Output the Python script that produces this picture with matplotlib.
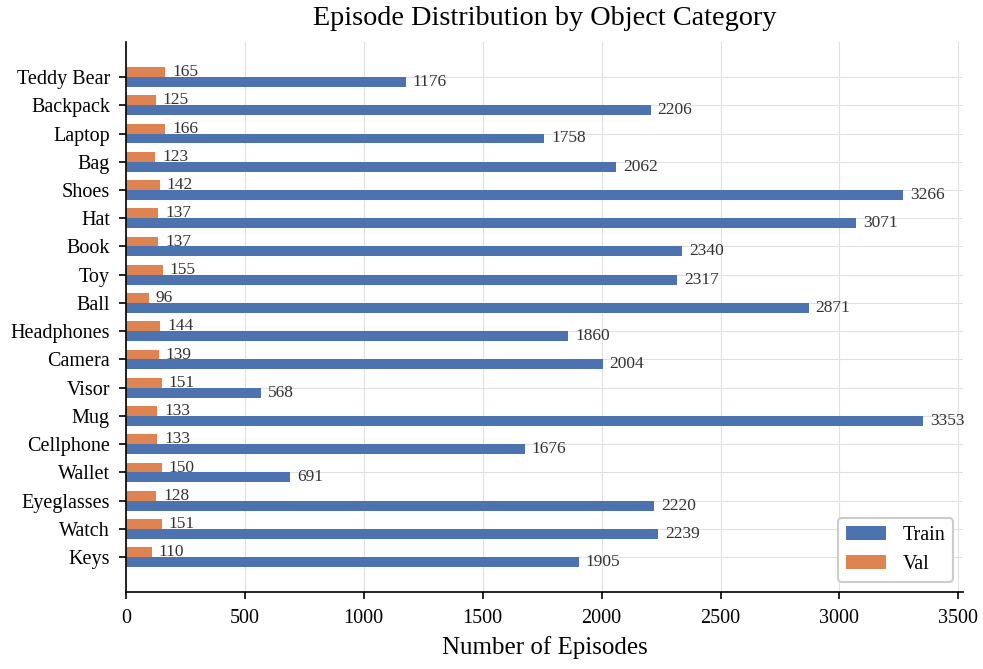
import matplotlib
matplotlib.use("Agg")
import matplotlib.pyplot as plt
import numpy as np

categories = ["Keys", "Watch", "Eyeglasses", "Wallet", "Cellphone", "Mug", "Visor",
              "Camera", "Headphones", "Ball", "Toy", "Book", "Hat", "Shoes", "Bag",
              "Laptop", "Backpack", "Teddy Bear"]
train = [1905, 2239, 2220, 691, 1676, 3353, 568, 2004, 1860, 2871, 2317, 2340,
         3071, 3266, 2062, 1758, 2206, 1176]
val = [110, 151, 128, 150, 133, 133, 151, 139, 144, 96, 155, 137, 137, 142, 123,
       166, 125, 165]

plt.rcParams['font.family'] = ['Liberation Serif', 'DejaVu Serif']

fig = plt.figure(figsize=(9.83, 6.69), dpi=100)
ax = fig.add_axes([0.128, 0.115, 0.852, 0.822])

y = np.arange(len(categories))
h = 0.35
b1 = ax.barh(y - h / 2, train, height=h, color="#4C72B0", label="Train", zorder=2)
b2 = ax.barh(y + h / 2, val, height=h, color="#DD8452", label="Val", zorder=2)

for bars in (b1, b2):
    ax.bar_label(bars, padding=5, fontsize=12.5, color="#333333")

ax.set_yticks(y)
ax.set_yticklabels(categories, fontsize=14.5)
ax.tick_params(axis='x', labelsize=14.5, pad=7)
ax.tick_params(axis='y', pad=6.5)
ax.tick_params(axis='both', length=5, width=1.2, color="black")
ax.set_xlabel("Number of Episodes", fontsize=18, labelpad=6)
ax.set_title("Episode Distribution by Object Category", fontsize=20.3, pad=12)
ax.grid(True, color="#e0e0e0", linewidth=0.8, zorder=0)
ax.set_axisbelow(True)
for s in ("top", "right"):
    ax.spines[s].set_visible(False)
for s in ("left", "bottom"):
    ax.spines[s].set_linewidth(1.2)
ax.set_xticks([0, 500, 1000, 1500, 2000, 2500, 3000, 3500])
ax.set_xlim(0, 3353 * 1.05)
leg = ax.legend(loc="lower right", fontsize=14.5, frameon=True, edgecolor="#cccccc",
                framealpha=1)
leg.get_frame().set_linewidth(1.5)

fig.savefig("out.png", dpi=100)
